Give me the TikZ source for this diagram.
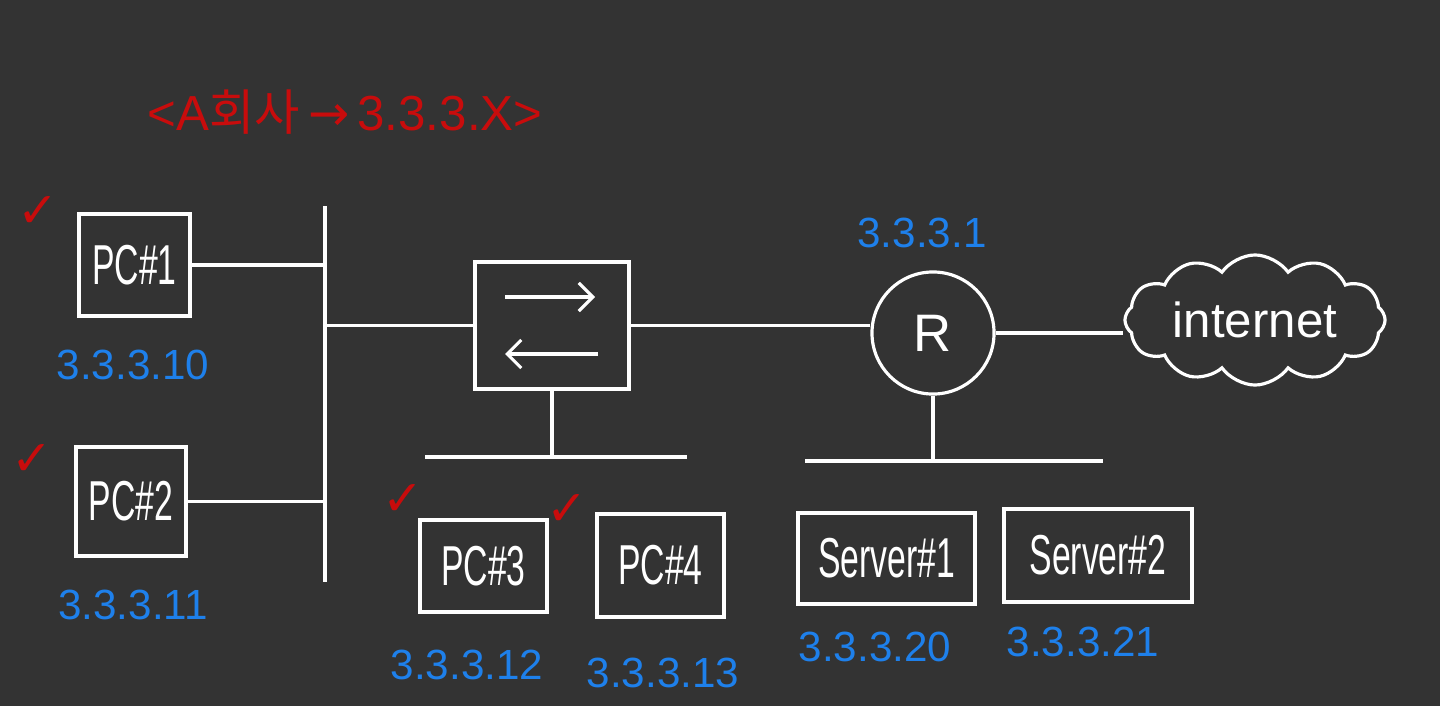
\documentclass[tikz,border=0pt]{standalone}
\usepackage{fontspec}
\setmainfont{Liberation Sans}
\newfontfamily\hand[FakeStretch=0.6]{Liberation Sans}
\newfontfamily\krfont{Noto Sans CJK KR}
\newfontfamily\symfont{DejaVu Sans}
\usepackage{tikz}
\usetikzlibrary{arrows.meta, shapes.geometric, shapes.symbols, positioning, calc}

\definecolor{boardbg}{RGB}{51,51,51}
\definecolor{penred}{RGB}{200,12,12}
\definecolor{penblue}{RGB}{30,128,235}

\begin{document}
\begin{tikzpicture}[x=0.01cm, y=-0.01cm,
    wire/.style={draw=white, line width=0.9pt},
    box/.style 2 args={draw=white, line width=0.9pt, text=white, inner sep=0pt,
        minimum width=#1, minimum height=#2, font=\hand\fontsize{16}{16}\selectfont},
    ipnum/.style={text=penblue, font=\fontsize{12}{12}\selectfont},
    tick/.style={text=penred, font=\symfont\fontsize{14}{14}\selectfont}]

        % board
        \fill[boardbg] (0,0) rectangle (1440,706);
        \useasboundingbox (0,0) rectangle (1440,706);

        \node[text=penred, font=\fontsize{14}{14}\selectfont] (title) at (345,112)
            {<A{\krfont 회사}\,{\symfont →}\,3.3.3.X>};

        % hosts and devices
        \node[box={1.11cm}{1.02cm}] (pc1) at (134.5,265) {PC\#1};
        \node[box={1.10cm}{1.09cm}] (pc2) at (131,501.5) {PC\#2};
        \node[box={1.54cm}{1.27cm}] (sw) at (552,325.5) {};
        \node[box={1.27cm}{0.92cm}] (pc3) at (483.5,566) {PC\#3};
        \node[box={1.27cm}{1.03cm}] (pc4) at (660.5,565.5) {PC\#4};
        \node[box={1.77cm}{0.91cm}] (srv1) at (886.5,558.5) {Server\#1};
        \node[box={1.88cm}{0.93cm}] (srv2) at (1098,555.5) {Server\#2};
        \node[draw=white, line width=0.9pt, circle, minimum size=1.22cm, text=white,
            font=\fontsize{15}{15}\selectfont] (rt) at (933,333) {R};
        \node[draw=white, line width=0.9pt, cloud, cloud puffs=12, cloud puff arc=110,
            aspect=2.3, inner sep=0pt, minimum width=2.6cm, minimum height=1.3cm, text=white,
            font=\fontsize{14}{14}\selectfont] (net) at (1255,320) {internet};

        % switch arrows
        \draw[wire, -{Straight Barb[length=4pt]}] ($(sw.center)+(-47,-28.5)$) -- ++(90,0);
        \draw[wire, -{Straight Barb[length=4pt]}] ($(sw.center)+(46,28.5)$) -- ++(-93,0);

        % buses
        \coordinate (busAt) at (325,206);
        \coordinate (busAb) at (325,582);
        \coordinate (busBl) at (425,457);
        \coordinate (busBr) at (687,457);
        \coordinate (busCl) at (805,461);
        \coordinate (busCr) at (1103,461);
        \draw[wire] (busAt) -- (busAb);
        \draw[wire] (busBl) -- (busBr);
        \draw[wire] (busCl) -- (busCr);

        % links
        \draw[wire] (pc1.east) -- (pc1.east -| busAt);
        \draw[wire] (pc2.east) -- (pc2.east -| busAt);
        \draw[wire] (sw.west) -- (sw.west -| busAt);
        \draw[wire] (sw.east) -- (sw.east -| rt.west);
        \draw[wire] (rt.east) -- (rt.east -| net.west);
        \draw[wire] (sw.south) -- (sw.south |- busBl);
        \draw[wire] ($(pc3.north)+(-10,0)$) -- ($(pc3.north)+(-10,0)$ |- busBl);
        \draw[wire] ($(pc4.north)+(-11,0)$) -- ($(pc4.north)+(-11,0)$ |- busBl);
        \draw[wire] (rt.south) -- (rt.south |- busCl);
        \draw[wire] ($(srv1.north)+(-25,0)$) -- ($(srv1.north)+(-25,0)$ |- busCl);
        \draw[wire] ($(srv2.north)+(-42,0)$) -- ($(srv2.north)+(-42,0)$ |- busCl);

        % addresses
        \node[ipnum] (ip1) at (133,365) {3.3.3.10};
        \node[ipnum] (ip2) at (133,605) {3.3.3.11};
        \node[ipnum] (ip3) at (467,665) {3.3.3.12};
        \node[ipnum] (ip4) at (663,673) {3.3.3.13};
        \node[ipnum] (ip5) at (875,647) {3.3.3.20};
        \node[ipnum] (ip6) at (1083,642) {3.3.3.21};
        \node[ipnum] (ipr) at (922,233) {3.3.3.1};

        % check marks
        \node[tick] (ck1) at (38,212) {✓};
        \node[tick] (ck2) at (32,460) {✓};
        \node[tick] (ck3) at (403,500) {✓};
        \node[tick] (ck4) at (567,510) {✓};

    \end{tikzpicture}
\end{document}
